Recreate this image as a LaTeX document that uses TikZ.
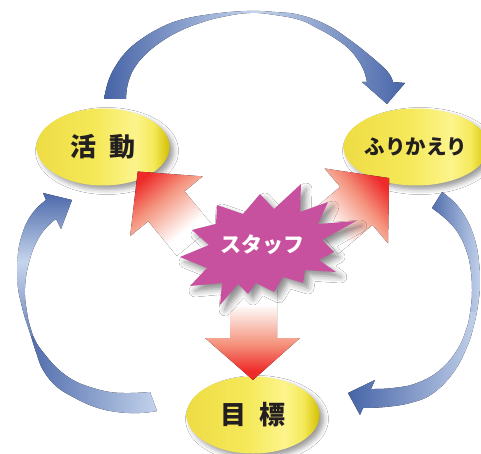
\documentclass[tikz,border=0pt]{standalone}
\usepackage{fontspec}
\newfontfamily\jp{Noto Sans CJK JP}
\usetikzlibrary{shapes.geometric,shadows.blur}
\definecolor{bdark}{HTML}{4361A5}
\definecolor{blight}{HTML}{C6D5ED}
\definecolor{bmed}{HTML}{6E86BE}
\definecolor{rred}{HTML}{EE2B2B}
\definecolor{rsal}{HTML}{F4927C}
\definecolor{ya}{HTML}{EEDC44}
\definecolor{yb}{HTML}{F5E95A}
\definecolor{yc}{HTML}{FCF48C}
\definecolor{yd}{HTML}{D3BF00}
\definecolor{mag}{HTML}{C7519E}
\definecolor{ink}{HTML}{231F20}
\pgfdeclarehorizontalshading{yel}{100bp}{color(0bp)=(ya); color(25bp)=(ya); color(48bp)=(yb); color(62bp)=(yc); color(69bp)=(yb); color(75bp)=(yd); color(100bp)=(yd)}
\pgfdeclarehorizontalshading{redax}{100bp}{color(0bp)=(white); color(25bp)=(white); color(33bp)=(white); color(55bp)=(rsal); color(70bp)=(rred); color(75bp)=(rred); color(100bp)=(rred)}

\newcommand\TopArrowPath{plot[smooth, tension=0.7] coordinates {(104,99) (108,82) (115,67) (126,52) (140,40) (158,29) (180,20) (212,14) (247,11) (275,12) (300,15) (327,25) (350,40) (368,54) (383,67) (390,75) (393,82)} -- (405,83) -- (387,104) -- (362,82) -- plot[smooth, tension=0.7] coordinates {(367,82) (364,71) (358,60) (348,48) (333,37) (317,28) (300,20) (275,15) (250,13) (222,17) (200,23) (182,30) (167,38) (154,47) (143,57) (135,67) (130,77) (127,88) (126,99)} -- cycle}

\newcommand\RightArrowPath{plot[smooth, tension=0.7] coordinates {(442,192) (456,204) (467,220) (475,240) (479,262) (480,285) (478,305) (474,325) (467,347) (453,373) (432,394) (410,403) (385,407) (363,408)} -- (360,415) -- (348,393) -- (375,380) -- plot[smooth, tension=0.7] coordinates {(371,389) (393,388) (417,383) (440,370) (457,350) (466,330) (470,313) (472,290) (470,265) (465,247) (458,233) (450,223) (441,215) (432,208)} -- cycle}

\newcommand\LeftArrowPath{plot[smooth, tension=0.7] coordinates {(157,411) (140,413) (117,412) (95,407) (73,397) (56,386) (43,370) (36,352) (30,333) (25,318) (21,303) (18,288) (17,270) (18,253) (21,238) (27,222) (36,209) (46,200)} -- (43,193) -- (72,200) -- (61,229) -- plot[smooth, tension=0.7] coordinates {(56,219) (45,229) (36,243) (30,259) (26,277) (25,295) (27,312) (30,326) (36,342) (47,357) (58,369) (73,380) (90,387) (110,392) (130,393) (150,392)} -- cycle}

\tikzset{
  ell/.style={ellipse, shading=yel, minimum width=133, minimum height=77, inner sep=0pt,
    blur shadow={shadow xshift=4pt, shadow yshift=-4pt, shadow blur radius=5pt, shadow opacity=40}},
  lbl/.style={font=\jp\bfseries\fontsize{26}{26}\selectfont, text=ink},
}

\begin{document}
\begin{tikzpicture}[x=1pt,y=-1pt]
\useasboundingbox (0,0) rectangle (481,454);
\fill[white] (0,0) rectangle (481,454);

% blue cycle arrows
\begin{scope}
  \clip \TopArrowPath;
  \fill[left color=bdark, right color=bdark, middle color=blight] (100,5) rectangle (410,108);
\end{scope}
\begin{scope}
  \clip \RightArrowPath;
  \fill[left color=bdark, right color=blight] (425,188) rectangle (482,312);
  \fill[left color=bdark, right color=blight] (345,312) rectangle (482,418);
\end{scope}
\begin{scope}
  \clip \LeftArrowPath;
  \fill[left color=bdark, right color=blight] (15,335) rectangle (160,416);
  \fill[top color=bdark, bottom color=bmed, middle color=blight] (10,188) rectangle (80,335);
\end{scope}

% ellipses
\node[ell, lbl] (act) at (103,147) {活\hspace{13pt}動};
\node[ell, lbl, font=\jp\bfseries\fontsize{20.5}{20.5}\selectfont, minimum width=131] (ref) at (416,147) {ふりかえり};
\node[ell, lbl] (tgt) at (253,415) {目\hspace{14pt}標};

% red arrows
\begin{scope}[transform canvas={shift={(195,241)},rotate=129.5}]
  \fill[shading=redax] (0,-23.5) -- (45,-23.5) -- (45,-47) -- (90,0) -- (45,47) -- (45,23.5) -- (0,23.5) -- cycle;
\end{scope}
\begin{scope}[transform canvas={shift={(322,235)},rotate=40.3}]
  \fill[shading=redax] (0,-25) -- (45,-25) -- (45,-49) -- (88,0) -- (45,49) -- (45,25) -- (0,25) -- cycle;
\end{scope}
\fill[shading=redax, shading angle=-90] (230,290) -- (277,290) -- (277,338) -- (300,338) -- (253,380) -- (205,338) -- (230,338) -- cycle;

% starburst
\fill[mag, blur shadow={shadow xshift=5pt, shadow yshift=-5pt, shadow blur radius=6pt, shadow opacity=45}]
  (260,194) -- (274,209) -- (301,184) -- (300,212) -- (328,202) -- (318,224) -- (356,221) -- (322,240) -- (334,252) -- (319,260) -- (336,272) -- (305,270) -- (303,283) -- (283,277) -- (274,292) -- (256,283) -- (248,294) -- (238,284) -- (220,305) -- (222,283) -- (190,286) -- (207,268) -- (180,257) -- (209,245) -- (192,230) -- (216,224) -- (217,205) -- (243,214) -- cycle;
\node[font=\jp\bfseries\fontsize{21}{21}\selectfont, text=white] (staff) at (262,245) {スタッフ};
\end{tikzpicture}
\end{document}
